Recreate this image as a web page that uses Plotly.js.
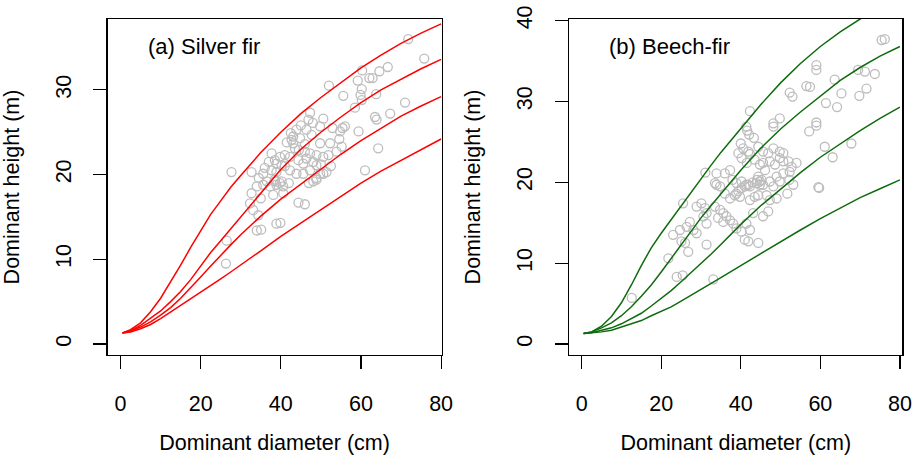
<!DOCTYPE html>
<html>
<head>
<meta charset="utf-8">
<script src="https://cdn.plot.ly/plotly-3.0.1.min.js"></script>
<style>html,body{margin:0;padding:0;background:#fff;}#chart{width:914px;height:457px;}</style>
</head>
<body>
<div id="chart"></div>
<script>
// ---------- data ----------
const X_TICKS = [0, 20, 40, 60, 80];
const Y_TICKS_A = [0, 10, 20, 30];
const Y_TICKS_B = [0, 10, 20, 30, 40];

const curveD = [0.5, 2.5, 5, 7.5, 10, 12.5, 15, 17.5, 20, 22.5, 25, 27.5, 30, 32.5, 35, 40, 45, 50, 55, 60, 65, 70, 75, 80];

// (a) Silver fir curves (top to bottom)
const firCurve1 = [1.3, 1.7, 2.5, 3.8, 5.4, 7.3, 9.3, 11.4, 13.4, 15.3, 16.9, 18.5, 19.9, 21.3, 22.6, 25.0, 27.2, 29.1, 30.9, 32.6, 34.1, 35.5, 36.7, 37.8];
const firCurve2 = [1.3, 1.6, 2.2, 3.0, 3.9, 5.0, 6.2, 7.6, 9.2, 10.8, 12.2, 13.6, 15.0, 16.5, 17.9, 20.6, 23.0, 25.0, 26.8, 28.5, 30.0, 31.3, 32.5, 33.6];
const firCurve3 = [1.3, 1.5, 2.0, 2.6, 3.4, 4.3, 5.4, 6.6, 7.9, 9.2, 10.5, 11.7, 12.9, 14.0, 15.1, 17.1, 18.9, 20.6, 22.4, 24.0, 25.5, 26.9, 28.1, 29.2];
const firCurve4 = [1.3, 1.4, 1.8, 2.3, 3.0, 3.8, 4.6, 5.4, 6.2, 7.0, 7.7, 8.5, 9.3, 10.1, 11.0, 12.7, 14.3, 15.9, 17.5, 19.0, 20.4, 21.7, 23.0, 24.2];

// (b) Beech-fir curves (top to bottom)
const bfCurve1 = [1.3, 1.5, 2.2, 3.4, 5.1, 7.3, 9.7, 11.9, 13.7, 15.4, 17.1, 18.8, 20.5, 22.1, 23.7, 26.7, 29.6, 32.3, 34.7, 36.8, 38.6, 40.2, 41.6, 42.8];
const bfCurve2 = [1.3, 1.5, 2.0, 2.6, 3.5, 4.6, 5.9, 7.3, 8.9, 10.6, 12.3, 14.0, 15.6, 17.1, 18.6, 21.5, 24.2, 26.6, 28.7, 30.7, 32.6, 34.2, 35.6, 36.8];
const bfCurve3 = [1.3, 1.4, 1.7, 2.0, 2.5, 3.1, 3.8, 4.7, 5.6, 6.6, 7.7, 8.8, 10.0, 11.1, 12.3, 14.8, 17.1, 19.2, 21.2, 23.1, 24.8, 26.4, 27.9, 29.3];
const bfCurve4 = [1.3, 1.35, 1.5, 1.7, 2.1, 2.5, 2.9, 3.5, 4.0, 4.6, 5.3, 6.0, 6.7, 7.4, 8.2, 9.7, 11.2, 12.7, 14.1, 15.5, 16.8, 18.1, 19.2, 20.3];

// observed plots: dominant diameter (cm) and dominant height (m)
const firD = [71.8,75.8,60.3,66.7,64.6,62.1,62.9,59.2,52.0,60.2,55.6,59.9,60.2,63.8,71.0,58.5,47.3,50.6,46.9,48.0,63.5,63.9,67.3,56.0,55.4,54.8,52.9,49.8,43.9,46.4,47.7,59.4,43.1,42.7,43.1,43.5,44.8,49.8,52.3,54.6,55.2,53.9,46.0,47.3,48.9,50.6,64.3,39.8,41.0,42.3,38.5,44.4,45.6,46.4,48.1,48.9,37.7,38.9,40.2,51.9,51.4,50.6,61.0,49.8,48.9,45.6,47.3,42.3,43.9,32.7,35.6,37.7,38.9,27.7,36.5,38.5,39.8,40.6,34.0,35.6,37.3,38.9,40.2,38.5,32.7,32.3,33.1,34.4,38.1,40.6,44.4,46.0,38.9,39.9,34.0,35.1,26.5,26.3,48.9,48.1,41.0,42.0,36.0,34.5,37.0,44.5,46.0,45.0,41.5,42.5,50.0,52.5,47.0,35.0];
const firH = [36.0,33.7,32.3,32.7,32.2,31.4,31.4,31.1,30.5,30.1,29.3,29.4,28.8,29.5,28.5,27.9,27.3,26.6,26.5,26.1,26.8,26.5,27.2,25.7,25.5,25.1,25.5,25.7,25.3,25.3,24.7,25.1,24.5,24.1,23.7,23.1,24.3,23.7,23.7,24.2,23.3,22.7,22.7,22.5,22.3,22.1,23.1,22.1,22.3,22.1,21.7,21.7,21.3,21.9,21.5,21.1,22.5,21.3,21.1,22.3,20.3,20.1,20.5,20.1,19.6,20.1,20.5,20.5,20.1,20.3,20.1,20.5,20.3,20.3,19.2,19.4,19.0,18.6,18.6,18.8,18.6,18.8,19.2,19.2,17.8,16.6,15.8,15.2,17.6,17.8,16.7,16.5,14.2,14.3,13.4,13.5,12.2,9.5,19.4,19.2,21.0,19.0,20.8,19.6,21.5,22.9,23.6,25.8,23.8,24.9,21.2,21.0,19.0,17.2];

const bfD = [75.4,76.2,59.0,59.0,69.5,71.2,73.7,63.6,56.5,57.4,52.3,53.0,65.3,71.6,69.8,61.4,64.2,42.3,49.8,48.2,48.2,59.0,59.0,57.2,41.4,41.6,42.1,43.3,61.1,67.8,63.1,40.0,40.6,41.9,42.3,44.4,45.6,46.9,48.2,49.8,50.7,49.8,50.7,52.0,52.8,54.0,47.3,48.6,45.6,39.4,40.2,41.5,43.5,44.8,46.1,44.4,45.2,36.0,37.3,37.9,31.1,33.9,33.5,40.2,41.0,41.9,43.0,44.1,44.8,47.3,49.0,50.7,52.3,52.2,53.2,59.7,38.9,39.8,33.9,34.8,38.9,40.2,41.4,42.3,44.0,44.8,45.6,48.2,49.8,36.0,37.3,38.5,39.4,42.3,43.5,44.4,46.5,47.3,49.0,51.7,59.5,28.9,30.1,31.0,31.4,25.5,33.5,34.8,35.6,34.3,35.6,36.4,37.3,38.1,38.9,40.2,41.4,42.3,41.0,41.9,44.4,43.1,45.6,46.9,27.2,26.4,28.1,28.9,30.6,31.4,23.0,24.7,25.1,26.0,26.8,31.4,21.8,23.9,25.4,33.1,12.6];
const bfH = [37.6,37.7,34.5,33.9,33.9,33.7,33.4,32.7,31.9,31.8,31.1,30.6,31.0,31.6,30.7,29.8,29.3,28.8,27.9,27.3,26.9,27.4,27.0,26.3,26.9,26.4,25.9,25.5,24.4,24.8,23.1,24.8,24.2,23.8,23.5,24.4,23.8,23.6,24.2,23.8,23.6,23.0,22.6,22.6,21.9,22.4,22.6,22.2,22.4,23.6,23.0,22.4,22.8,22.2,21.5,20.7,20.3,21.1,21.5,20.3,21.2,21.1,19.9,20.1,19.5,19.7,20.0,20.3,19.7,20.1,20.7,21.1,21.3,20.3,19.7,19.3,18.6,18.2,19.7,19.5,19.9,19.3,19.7,19.5,19.9,20.1,19.7,19.5,20.1,18.6,18.0,18.4,18.9,17.8,18.2,18.4,18.4,17.8,18.0,18.6,19.4,17.0,17.4,16.8,16.2,17.4,17.0,16.6,16.2,15.6,15.1,15.8,15.3,14.9,14.3,13.9,14.9,14.1,12.9,12.7,12.5,16.2,15.8,16.4,15.1,14.5,14.1,13.7,15.8,14.9,13.5,14.1,12.7,12.5,11.4,12.3,10.6,8.3,8.5,8.0,5.7];

// ---------- styling ----------
const W = 914, H = 457;
const RED = '#ff0000';
const GREEN = '#0e6b0e';
const GREY = '#bdbdbd';
const FONT = 'Arial, "Liberation Sans", sans-serif';

function pointsTrace(x, y, xa, ya) {
  return {x: x, y: y, xaxis: xa, yaxis: ya, type: 'scatter', mode: 'markers',
    marker: {symbol: 'circle-open', size: 9, color: GREY, line: {width: 1.3, color: GREY}},
    hoverinfo: 'skip'};
}
function curveTrace(y, color, xa, ya) {
  return {x: curveD, y: y, xaxis: xa, yaxis: ya, type: 'scatter', mode: 'lines',
    line: {color: color, width: 1.5}, hoverinfo: 'skip'};
}

const data = [
  pointsTrace(firD, firH, 'x', 'y'),
  curveTrace(firCurve1, RED, 'x', 'y'),
  curveTrace(firCurve2, RED, 'x', 'y'),
  curveTrace(firCurve3, RED, 'x', 'y'),
  curveTrace(firCurve4, RED, 'x', 'y'),
  pointsTrace(bfD, bfH, 'x2', 'y2'),
  curveTrace(bfCurve1, GREEN, 'x2', 'y2'),
  curveTrace(bfCurve2, GREEN, 'x2', 'y2'),
  curveTrace(bfCurve3, GREEN, 'x2', 'y2'),
  curveTrace(bfCurve4, GREEN, 'x2', 'y2')
];

const yDom = [(H - 355) / H, (H - 19) / H];
const TICK_SIZE = 21.5, TITLE_SIZE = 21.5, ANNOT_SIZE = 22;

function xAxis(domain, range, anchor) {
  return {domain: domain, range: range, anchor: anchor, tickvals: X_TICKS, ticktext: X_TICKS.map(String),
    ticks: 'outside', ticklen: 13, tickwidth: 1.2, tickcolor: '#000',
    showline: true, mirror: true, linecolor: '#000', linewidth: 1.3,
    showgrid: false, zeroline: false, automargin: false,
    tickfont: {size: TICK_SIZE, color: '#000', family: FONT}, ticklabelstandoff: 16,
    title: {text: 'Dominant diameter (cm)', font: {size: TITLE_SIZE, color: '#000', family: FONT}, standoff: 20}};
}
function yAxis(range, anchor, ticks) {
  return {domain: yDom, range: range, anchor: anchor, tickvals: ticks, ticktext: ticks.map(String),
    ticks: 'outside', ticklen: 13, tickwidth: 1.2, tickcolor: '#000', tickangle: -90,
    showline: true, mirror: true, linecolor: '#000', linewidth: 1.3,
    showgrid: false, zeroline: false, automargin: false,
    tickfont: {size: TICK_SIZE, color: '#000', family: FONT}, ticklabelstandoff: 14,
    title: {text: 'Dominant height (m)', font: {size: TITLE_SIZE, color: '#000', family: FONT}, standoff: 27}};
}

const layout = {
  width: W, height: H,
  margin: {l: 0, r: 0, t: 0, b: 0, pad: 0},
  paper_bgcolor: '#fff', plot_bgcolor: '#fff',
  showlegend: false,
  font: {family: FONT, color: '#000', size: TICK_SIZE},
  xaxis: xAxis([107.7 / W, 441.5 / W], [-3.2, 80.1], 'y'),
  yaxis: yAxis([-1.3, 38.37], 'x', Y_TICKS_A),
  xaxis2: xAxis([569.3 / W, 902.3 / W], [-3.1, 80.6], 'y2'),
  yaxis2: yAxis([-1.36, 40.2], 'x2', Y_TICKS_B),
  annotations: [
    {text: '(a) Silver fir', xref: 'paper', yref: 'paper', x: 146 / W, y: 1 - 46 / H,
     xanchor: 'left', yanchor: 'middle', showarrow: false, font: {size: ANNOT_SIZE, color: '#000', family: FONT}},
    {text: '(b) Beech-fir', xref: 'paper', yref: 'paper', x: 607 / W, y: 1 - 46 / H,
     xanchor: 'left', yanchor: 'middle', showarrow: false, font: {size: ANNOT_SIZE, color: '#000', family: FONT}}
  ]
};

Plotly.newPlot('chart', data, layout, {staticPlot: true, displayModeBar: false});
</script>
</body>
</html>
